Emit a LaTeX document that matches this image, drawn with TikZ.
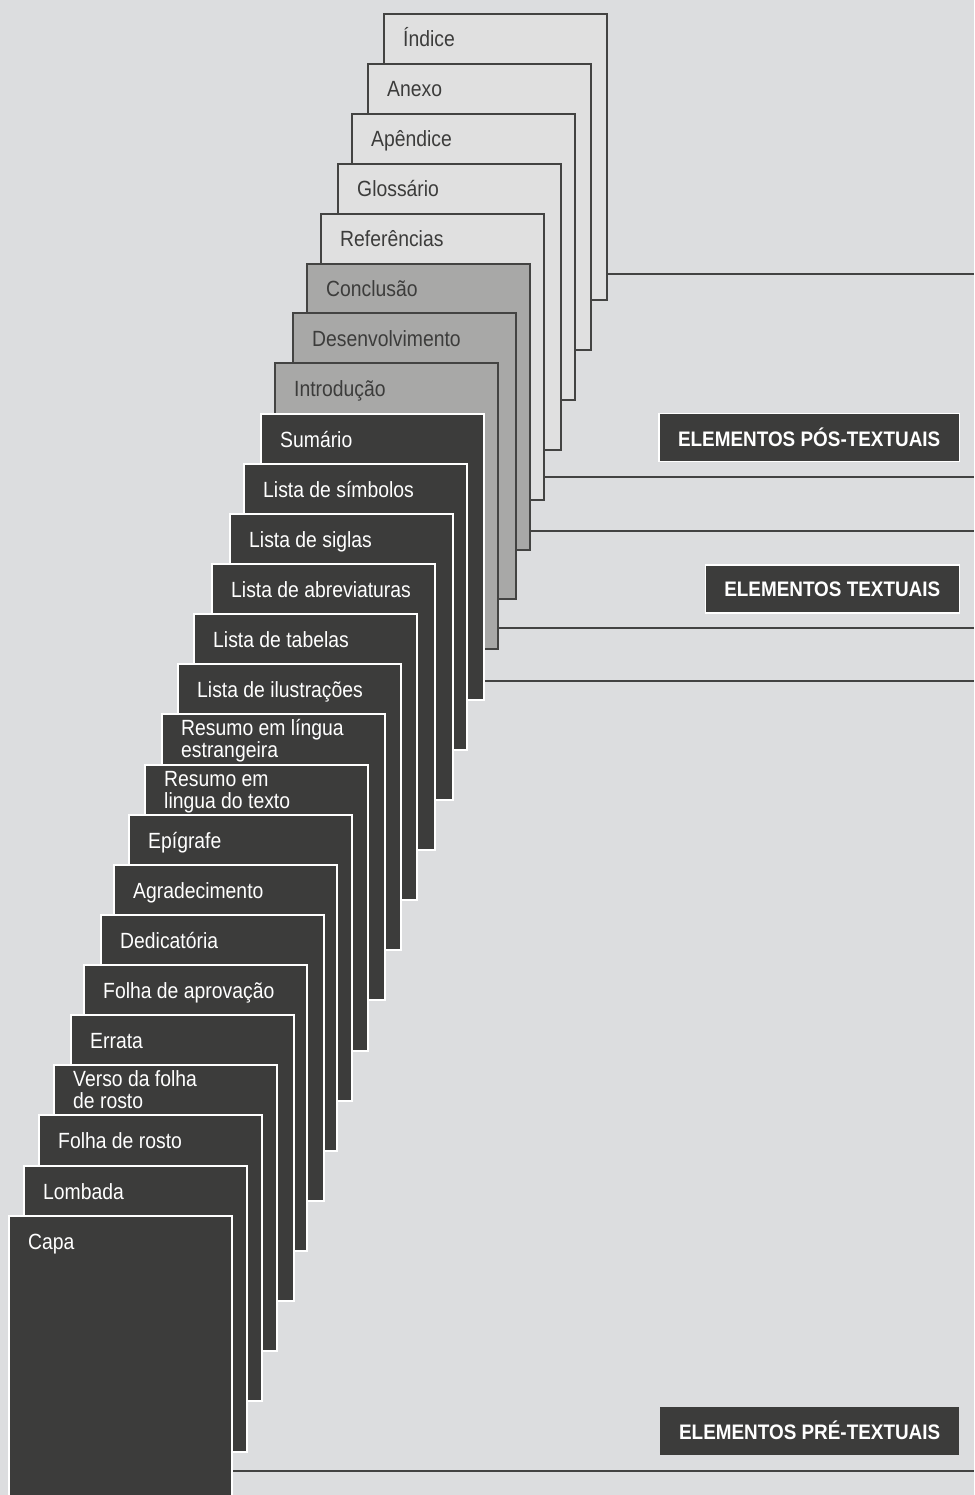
\documentclass[tikz,border=0pt]{standalone}
\usepackage{fontspec}
\setmainfont{Liberation Sans}[FakeStretch=0.88]
\newfontfamily\tagfont{Liberation Sans}[FakeStretch=0.9]
\usepackage{tikz}
\usetikzlibrary{
  positioning,
  calc
}
\definecolor{tcDark}{HTML}{3C3C3B}
\definecolor{tcMid}{HTML}{A8A8A7}
\definecolor{tcLight}{HTML}{E0E0E0}
\definecolor{tcBack}{HTML}{DCDDDF}
\definecolor{tcLine}{HTML}{434342}
\tikzset{
  sheet/.style={
    draw, line width=2pt, minimum width=223pt, minimum height=286pt,
    anchor=north west, inner sep=0pt
  },
  sheetlight/.style={sheet, fill=tcLight, draw=tcLine},
  sheetmid/.style={sheet, fill=tcMid, draw=tcLine},
  sheetdark/.style={sheet, fill=tcDark, draw=white},
  sheettext/.style={anchor=base west, inner sep=0pt, align=left,
    font=\fontsize{22}{22}\selectfont},
  textlight/.style={sheettext, text=tcDark},
  textmid/.style={sheettext, text=tcDark},
  textdark/.style={sheettext, text=white},
  grouptag/.style={
    fill=tcDark, text=white, anchor=east, inner xsep=19pt, inner ysep=0pt,
    minimum height=48pt, line width=1.5pt,
    font={\tagfont\bfseries\fontsize{21}{21}\selectfont}
  },
  bracket/.style={line width=2pt, tcLine}
}

\begin{document}
\begin{tikzpicture}[x=1pt, y=-1pt]
  \useasboundingbox (0,0) rectangle (974,1495);
  \clip (0,0) rectangle (974,1495);
  \fill[tcBack] (0,0) rectangle (974,1495);

  % sheets, back to front
  \foreach \lx/\ty/\dy/\kind/\txt [count=\i] in {
    383/13/34/light/{Índice},
    367/63/34/light/{Anexo},
    351/113/34/light/{Apêndice},
    337/163/34/light/{Glossário},
    320/213/34/light/{Referências},
    306/263/34/mid/{Conclusão},
    292/312/34/mid/{Desenvolvimento},
    274/362/34/mid/{Introdução},
    260/413/34/dark/{Sumário},
    243/463/34/dark/{Lista de símbolos},
    229/513/34/dark/{Lista de siglas},
    211/563/34/dark/{Lista de abreviaturas},
    193/613/34/dark/{Lista de tabelas},
    177/663/34/dark/{Lista de ilustrações},
    161/713/44/dark/{Resumo em língua\\estrangeira},
    144/764/44/dark/{Resumo em\\lingua do texto},
    128/814/34/dark/{Epígrafe},
    113/864/34/dark/{Agradecimento},
    100/914/34/dark/{Dedicatória},
    83/964/34/dark/{Folha de aprovação},
    70/1014/34/dark/{Errata},
    53/1064/44/dark/{Verso da folha\\de rosto},
    38/1114/34/dark/{Folha de rosto},
    23/1165/34/dark/{Lombada},
    8/1215/34/dark/{Capa}}{
    \node[sheet\kind] (s\i) at (\lx,\ty) {};
    \node[text\kind] (t\i) at ({\lx+20},{\ty+\dy}) {\txt};
  }

  % group tags
  \node[grouptag, draw=white] (pos) at (960,437.5) {ELEMENTOS PÓS-TEXTUAIS};
  \node[grouptag, draw=white] (txt) at (960,589) {ELEMENTOS TEXTUAIS};
  \node[grouptag] (pre) at (960,1430.5) {ELEMENTOS PRÉ-TEXTUAIS};

  % brackets to the right edge
  \coordinate (e1) at (974,274);
  \coordinate (e2) at (974,477);
  \coordinate (e3) at (974,531);
  \coordinate (e4) at (974,628);
  \coordinate (e5) at (974,681);
  \coordinate (e6) at (974,1471);
  \draw[bracket] (s1.east |- e1) -- (e1);
  \draw[bracket] (s5.east |- e2) -- (e2);
  \draw[bracket] (s6.east |- e3) -- (e3);
  \draw[bracket] (s8.east |- e4) -- (e4);
  \draw[bracket] (s9.east |- e5) -- (e5);
  \draw[bracket] (s25.east |- e6) -- (e6);
\end{tikzpicture}
\end{document}
